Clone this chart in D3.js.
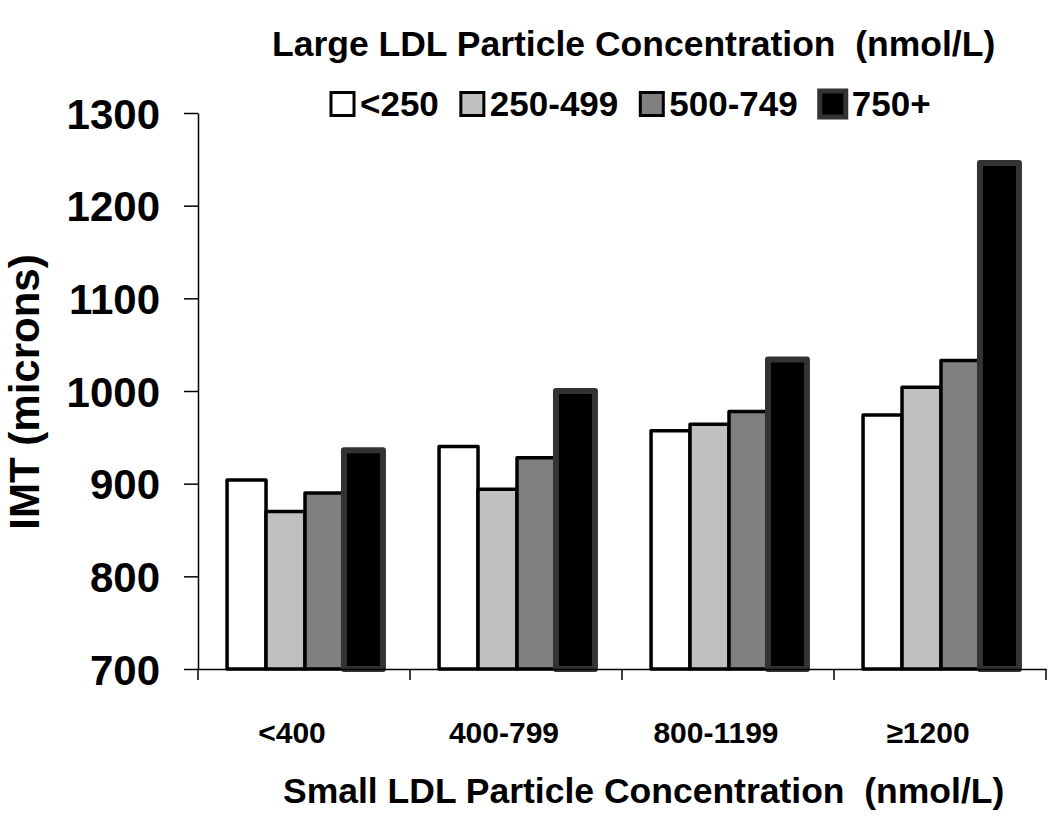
<!DOCTYPE html>
<html>
<head>
<meta charset="utf-8">
<script src="https://cdn.jsdelivr.net/npm/d3@7"></script>
<style>
  body { margin: 0; background: #fff; }
  text { font-family: "Liberation Sans", Arial, sans-serif; font-weight: bold; fill: #000; white-space: pre; }
</style>
</head>
<body>
<div id="chart"></div>
<script>
// datos
var categories = ["<400", "400-799", "800-1199", "\u22651200"];
var series = ["<250", "250-499", "500-749", "750+"];
var valLt250 = [904, 940, 957, 974];
var val250 = [870, 894, 964, 1004];
var val500 = [890, 928, 978, 1033];
var val750 = [936, 1000, 1034, 1246];
var yTicks = [700, 800, 900, 1000, 1100, 1200, 1300];

var fills = ["#ffffff", "#c0c0c0", "#808080", "#000000"];
var strokes = ["#000", "#000", "#000", "#333"];
var strokeW = [3.5, 3.5, 3.5, 6];

var width = 1050, height = 823;
var margin = { left: 198, right: 4, top: 113, bottom: 154 };

var svg = d3.select("#chart").append("svg")
  .attr("width", width)
  .attr("height", height);

var rows = categories.map(function (c, i) {
  return { cat: c, vals: [valLt250[i], val250[i], val500[i], val750[i]] };
});

var x = d3.scaleBand()
  .domain(categories)
  .range([margin.left, width - margin.right])
  .paddingInner(0)
  .paddingOuter(0);

// barras dentro de cada grupo
var xs = d3.scaleBand()
  .domain(series)
  .range([0, x.bandwidth()])
  .paddingOuter(0.72)
  .paddingInner(0);

var y = d3.scaleLinear()
  .domain([700, 1300])
  .range([height - margin.bottom, margin.top]);

var groups = svg.selectAll(".grupo")
  .data(rows)
  .enter().append("g")
  .attr("class", "grupo")
  .attr("transform", function (d) { return "translate(" + (x(d.cat) + 1) + ",0)"; });

groups.selectAll("rect")
  .data(function (d) { return d.vals.map(function (v, k) { return { s: series[k], k: k, v: v }; }); })
  .enter().append("rect")
  .attr("x", function (d) { return xs(d.s); })
  .attr("width", xs.bandwidth())
  .attr("y", function (d) { return y(d.v); })
  .attr("height", function (d) { return y(700) - y(d.v); })
  .style("fill", function (d) { return fills[d.k]; })
  .style("stroke", function (d) { return strokes[d.k]; })
  .style("stroke-width", function (d) { return strokeW[d.k]; })
  .style("stroke-linejoin", "round");

// eje Y
var yAxis = svg.append("g")
  .attr("transform", "translate(" + margin.left + ",0)")
  .call(d3.axisLeft(y).tickValues(yTicks).tickSize(14).tickSizeOuter(0).tickPadding(24).tickFormat(d3.format("d")));
yAxis.selectAll("text").style("font-size", "42px").attr("dy", "0.36em");

// eje X
var xAxis = svg.append("g")
  .attr("transform", "translate(0," + y(700) + ")")
  .call(d3.axisBottom(x).tickSize(0).tickSizeOuter(0).tickFormat(""));
xAxis.selectAll(".tick").remove();
xAxis.selectAll(".mx").data(categories.concat(["fin"]))
  .enter().append("line")
  .attr("class", "mx")
  .attr("x1", function (d) { return d === "fin" ? x.range()[1] : x(d); })
  .attr("x2", function (d) { return d === "fin" ? x.range()[1] : x(d); })
  .attr("y1", 0).attr("y2", 11)
  .style("stroke", "#000").style("stroke-width", 1.5);

svg.selectAll("path.domain, .tick line").style("stroke", "#000").style("stroke-width", 1.5);

svg.selectAll(".xlab")
  .data(categories)
  .enter().append("text")
  .attr("class", "xlab")
  .attr("x", function (d) { return x(d) + x.bandwidth() / 2 - 12; })
  .attr("y", 743)
  .attr("text-anchor", "middle")
  .style("font-size", "30px")
  .text(function (d) { return d; });

// titulos
svg.append("text")
  .attr("x", 283).attr("y", 803)
  .style("font-size", "35.5px")
  .text("Small LDL Particle Concentration  (nmol/L)");

svg.append("text")
  .attr("x", 272).attr("y", 56)
  .style("font-size", "35.5px")
  .text("Large LDL Particle Concentration  (nmol/L)");

svg.append("text")
  .attr("transform", "translate(39,392) rotate(-90)")
  .attr("text-anchor", "middle")
  .style("font-size", "42px")
  .text("IMT (microns)");

// leyenda
var legend = svg.append("g").attr("class", "legend");
var lx = 331;
series.forEach(function (s, k) {
  var sq = k === 3 ? 26 : 23;
  legend.append("rect")
    .attr("x", lx).attr("y", 104 - sq / 2)
    .attr("width", sq).attr("height", sq)
    .style("fill", fills[k])
    .style("stroke", strokes[k])
    .style("stroke-width", k === 3 ? 5 : 3);
  var t = legend.append("text")
    .attr("x", lx + sq + 6).attr("y", 116)
    .style("font-size", "35px")
    .text(s);
  lx = lx + sq + 6 + t.node().getComputedTextLength() + 22;
});
</script>
</body>
</html>
